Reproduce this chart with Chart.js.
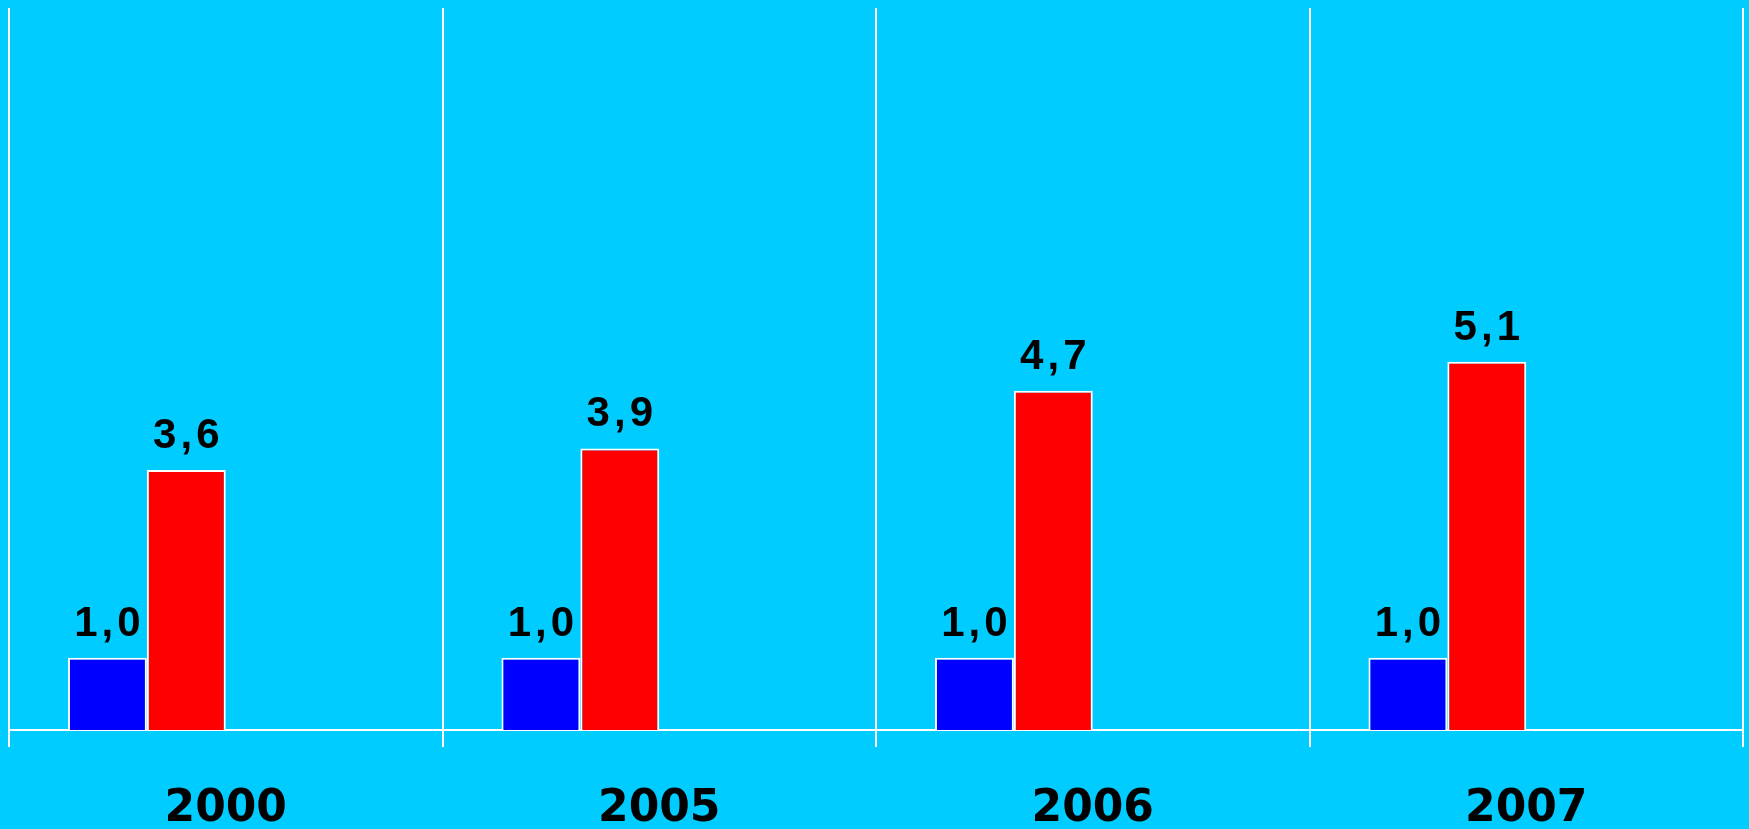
<!DOCTYPE html>
<html>
<head>
<meta charset="utf-8">
<script src="https://cdn.jsdelivr.net/npm/chart.js@4/dist/chart.umd.min.js"></script>
<style>
  html, body { margin: 0; padding: 0; background: #00ccff; }
  #wrap { width: 1749px; height: 829px; }
</style>
</head>
<body>
<div id="wrap"><canvas id="barChart"></canvas></div>
<script>
const years = ["2000", "2005", "2006", "2007"];
const blueValues = [1.0, 1.0, 1.0, 1.0];
const redValues = [3.6, 3.9, 4.7, 5.1];
// two empty series keep the bars in the left half of each slot, like the original
const emptyA = [null, null, null, null];
const emptyB = [null, null, null, null];

// draw the value above each bar, with a comma as decimal mark
const valueLabels = {
  id: "valueLabels",
  afterDatasetsDraw(chart) {
    const ctx = chart.ctx;
    ctx.save();
    ctx.font = "bold 42px 'Liberation Sans', Arial, sans-serif";
    ctx.fillStyle = "#000";
    ctx.textAlign = "center";
    ctx.textBaseline = "alphabetic";
    if ("letterSpacing" in ctx) ctx.letterSpacing = "4px";
    [0, 1].forEach(di => {
      const meta = chart.getDatasetMeta(di);
      meta.data.forEach((bar, i) => {
        const v = chart.data.datasets[di].data[i];
        if (v == null) return;
        const txt = v.toFixed(1).replace(".", ",");
        ctx.fillText(txt, bar.x + 2, bar.y - 22);
      });
    });
    ctx.restore();
  }
};

const ctx = document.getElementById("barChart").getContext("2d");
new Chart(ctx, {
  type: "bar",
  data: {
    labels: years,
    datasets: [
      { data: blueValues, backgroundColor: "#0000ff", borderColor: "#ffffff", borderWidth: 2 },
      { data: redValues, backgroundColor: "#ff0000", borderColor: "#ffffff", borderWidth: 2 },
      { data: emptyA, backgroundColor: "transparent", borderWidth: 0 },
      { data: emptyB, backgroundColor: "transparent", borderWidth: 0 }
    ]
  },
  options: {
    responsive: true,
    maintainAspectRatio: false,
    animation: false,
    layout: { padding: { left: 9, right: 6, top: 8, bottom: 0 } },
    datasets: {
      bar: { barPercentage: 1.0, categoryPercentage: 0.728 }
    },
    plugins: {
      legend: { display: false },
      tooltip: { enabled: false }
    },
    scales: {
      x: {
        offset: true,
        afterFit: (scale) => { scale.height = 99; },
        grid: {
          offset: true,
          color: "#ffffff",
          lineWidth: 2,
          drawTicks: true,
          tickLength: 17
        },
        border: { display: true, color: "#ffffff", width: 2 },
        ticks: {
          color: "#000",
          padding: 36,
          font: { family: "'DejaVu Sans', sans-serif", size: 44, weight: "bold" }
        }
      },
      y: {
        display: false,
        min: 0,
        max: 10
      }
    }
  },
  plugins: [valueLabels]
});
</script>
</body>
</html>
